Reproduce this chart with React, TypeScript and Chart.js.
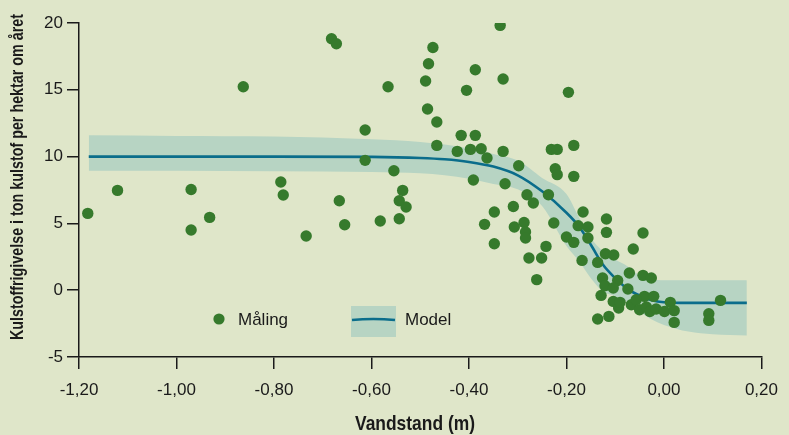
import { useEffect, useRef } from 'react';
import { Chart, registerables } from 'chart.js';

Chart.register(...registerables);

const xTicks = [-1.2, -1.0, -0.8, -0.6, -0.4, -0.2, 0, 0.2];
const yTicks = [-5, 0, 5, 10, 15, 20];

const measX = [
  -1.182, -1.121, -0.970, -0.970, -0.932, -0.863, -0.786, -0.781, -0.734, -0.682, -0.672, -0.666, -0.655, -0.613, -0.613, -0.582, -0.566, -0.554, -0.536, -0.543, -0.529, -0.543,
  -0.336, -0.474, -0.483, -0.489, -0.387, -0.330, -0.405, -0.196, -0.485, -0.466, -0.416, -0.387, -0.466, -0.424, -0.397, -0.375, -0.363, -0.330, -0.298, -0.231, -0.219, -0.223, -0.219, -0.185, -0.185, -0.391, -0.326,
  -0.281, -0.268, -0.237, -0.348, -0.309, -0.368, -0.287, -0.307, -0.284, -0.284, -0.226, -0.348, -0.242, -0.277, -0.251, -0.261, -0.166, -0.176, -0.156, -0.200, -0.185, -0.156, -0.118, -0.118, -0.168, -0.136, -0.120, -0.103, -0.063, -0.126, -0.095, -0.071, -0.121, -0.104, -0.074, -0.129, -0.104, -0.093, -0.067, -0.136, -0.113, -0.043, -0.043, -0.026, -0.040, -0.021, -0.090, -0.057, -0.050, -0.036, -0.029, -0.016, 0.001, 0.013, 0.021, 0.021, 0.116, 0.092, 0.092,
];
const measY = [
  5.75, 7.47, 7.54, 4.51, 5.45, 15.23, 8.10, 7.13, 4.06, 18.82, 18.45, 6.70, 4.90, 11.99, 9.72, 5.18, 15.23, 8.94, 7.47, 6.70, 6.23, 5.35,
  19.82, 18.17, 16.95, 15.66, 16.50, 15.81, 14.96, 14.81, 13.56, 12.59, 11.59, 11.59, 10.84, 10.39, 10.54, 10.59, 9.90, 10.39, 9.32, 10.54, 10.54, 9.09, 8.65, 10.84, 8.52, 8.25, 7.97,
  7.15, 6.53, 7.15, 5.85, 6.27, 4.93, 5.07, 4.73, 4.36, 3.91, 5.03, 3.48, 3.28, 2.41, 2.41, 0.79, 5.85, 4.83, 4.73, 3.98, 3.58, 3.91, 5.33, 4.33, 2.23, 2.08, 2.73, 2.63, 3.08, 0.91, 0.73, 1.29, 0.34, 0.16, 0.09, -0.39, -0.84, -1.33, -1.09, -2.16, -1.96, 4.28, 1.11, 0.91, -0.46, -0.46, -0.91, -0.71, -1.46, -1.26, -1.59, -1.41, -1.59, -0.91, -1.53, -2.41, -0.76, -1.76, -2.26,
];

const modelX = [-1.18, -1.0, -0.8, -0.6, -0.5, -0.45, -0.4, -0.35, -0.3, -0.25, -0.2, -0.175, -0.15, -0.125, -0.1, -0.075, -0.05, -0.025, 0, 0.05, 0.1, 0.17];
const modelY = [10, 10, 10, 9.98, 9.9, 9.8, 9.6, 9.25, 8.6, 7.4, 5.8, 4.8, 3.4, 1.9, 0.9, 0.1, -0.4, -0.75, -0.9, -0.95, -0.95, -0.95];
const bandUpper = [11.6, 11.55, 11.5, 11.3, 11.1, 10.9, 10.6, 10.2, 9.7, 8.4, 7.2, 5.5, 3.9, 2.9, 2.3, 1.8, 1.1, 0.8, 0.75, 0.75, 0.75, 0.75];
const bandLower = [8.95, 8.95, 8.9, 8.85, 8.75, 8.6, 8.35, 7.95, 7.55, 6.3, 3.3, 2.2, 0.9, -0.1, -0.45, -0.9, -1.6, -2.2, -2.6, -3.1, -3.3, -3.4];

const xTitle = 'Vandstand (m)';
const yTitle = 'Kulstoffrigivelse i ton kulstof per hektar om året';
const legendPoint = 'Måling';
const legendModel = 'Model';

const BG = '#dfe6c9';
const DOT = '#367a2c';
const LINE = '#0a6d8b';
const BAND = '#b7d4c3';
const INK = '#1a1a1a';
const FONT = '"Liberation Sans", Arial, sans-serif';

const overlay = {
  id: 'overlay',
  afterDraw(chart: any) {
    const ctx = chart.ctx as CanvasRenderingContext2D;
    ctx.save();
    // condensed bold titles: bold face squeezed horizontally to the reference width
    const condensed = (text: string, size: number, target: number) => {
      ctx.font = `bold ${size}px ${FONT}`;
      const w = ctx.measureText(text).width;
      ctx.scale(target / w, 1);
      ctx.fillText(text, 0, 0);
    };
    ctx.fillStyle = INK;
    ctx.textAlign = 'center';
    ctx.textBaseline = 'middle';
    ctx.save();
    ctx.translate(415, 424);
    condensed(xTitle, 21, 120);
    ctx.restore();
    ctx.save();
    ctx.translate(18, 177);
    ctx.rotate(-Math.PI / 2);
    condensed(yTitle, 17.5, 326);
    ctx.restore();

    // legend
    ctx.fillStyle = DOT;
    ctx.beginPath();
    ctx.arc(219, 319, 5.6, 0, Math.PI * 2);
    ctx.fill();
    ctx.fillStyle = BAND;
    ctx.fillRect(351, 306, 45, 31);
    ctx.strokeStyle = LINE;
    ctx.lineWidth = 2.5;
    ctx.beginPath();
    ctx.moveTo(352, 320);
    ctx.quadraticCurveTo(373, 318, 395, 320);
    ctx.stroke();
    ctx.fillStyle = INK;
    ctx.textAlign = 'left';
    ctx.font = `17px ${FONT}`;
    ctx.fillText(legendPoint, 238, 320);
    ctx.fillText(legendModel, 405, 320);
    ctx.restore();
  },
};

const fmtX = (v: number) => (Math.abs(v) < 1e-9 ? 0 : v).toFixed(2).replace('.', ',');

export default function App() {
  const ref = useRef<HTMLCanvasElement>(null);
  useEffect(() => {
    if (!ref.current) return;
    const pts = measX.map((x, i) => ({ x, y: measY[i] }));
    const model = modelX.map((x, i) => ({ x, y: modelY[i] }));
    const up = modelX.map((x, i) => ({ x, y: bandUpper[i] }));
    const lo = modelX.map((x, i) => ({ x, y: bandLower[i] }));
    const chart = new Chart(ref.current, {
      type: 'scatter',
      data: {
        datasets: [
          { type: 'scatter', label: legendPoint, data: pts, backgroundColor: DOT, borderWidth: 0, pointRadius: 5.7, pointHoverRadius: 5.7 },
          { type: 'line', label: legendModel, data: model, borderColor: LINE, borderWidth: 2.6, pointRadius: 0, fill: false, cubicInterpolationMode: 'monotone' },
          { type: 'line', label: 'upper', data: up, borderWidth: 0, borderColor: 'rgba(0,0,0,0)', backgroundColor: BAND, pointRadius: 0, fill: '+1', cubicInterpolationMode: 'monotone' },
          { type: 'line', label: 'lower', data: lo, borderWidth: 0, borderColor: 'rgba(0,0,0,0)', pointRadius: 0, fill: false, cubicInterpolationMode: 'monotone' },
        ] as any,
      },
      options: {
        animation: false,
        responsive: false,
        events: [],
        layout: { padding: { top: 23, right: 21, left: 0, bottom: 0 } },
        plugins: { legend: { display: false }, tooltip: { enabled: false } },
        scales: {
          x: {
            type: 'linear',
            min: -1.2,
            max: 0.2,
            afterBuildTicks: (s: any) => { s.ticks = xTicks.map((v) => ({ value: v })); },
            afterFit: (s: any) => { s.height = 78; },
            grid: { drawOnChartArea: false, drawTicks: true, tickLength: 12, tickColor: INK, lineWidth: 1.5 },
            border: { display: true, color: INK, width: 1.5 },
            ticks: { color: INK, font: { family: FONT, size: 17 }, padding: 11, maxRotation: 0, callback: (v: any) => fmtX(Number(v)) },
          },
          y: {
            type: 'linear',
            min: -5,
            max: 20,
            afterBuildTicks: (s: any) => { s.ticks = yTicks.map((v) => ({ value: v })); },
            afterFit: (s: any) => { s.width = 79; },
            grid: { drawOnChartArea: false, drawTicks: true, tickLength: 12, tickColor: INK, lineWidth: 1.5 },
            border: { display: true, color: INK, width: 1.5 },
            ticks: { color: INK, font: { family: FONT, size: 17 }, padding: 4, callback: (v: any) => String(v) },
          },
        },
      },
      plugins: [overlay],
    });
    return () => chart.destroy();
  }, []);
  return (
    <div style={{ position: 'fixed', left: 0, top: 0, width: 789, height: 435, background: BG }}>
      <canvas ref={ref} width={789} height={435} style={{ display: 'block' }} />
    </div>
  );
}
